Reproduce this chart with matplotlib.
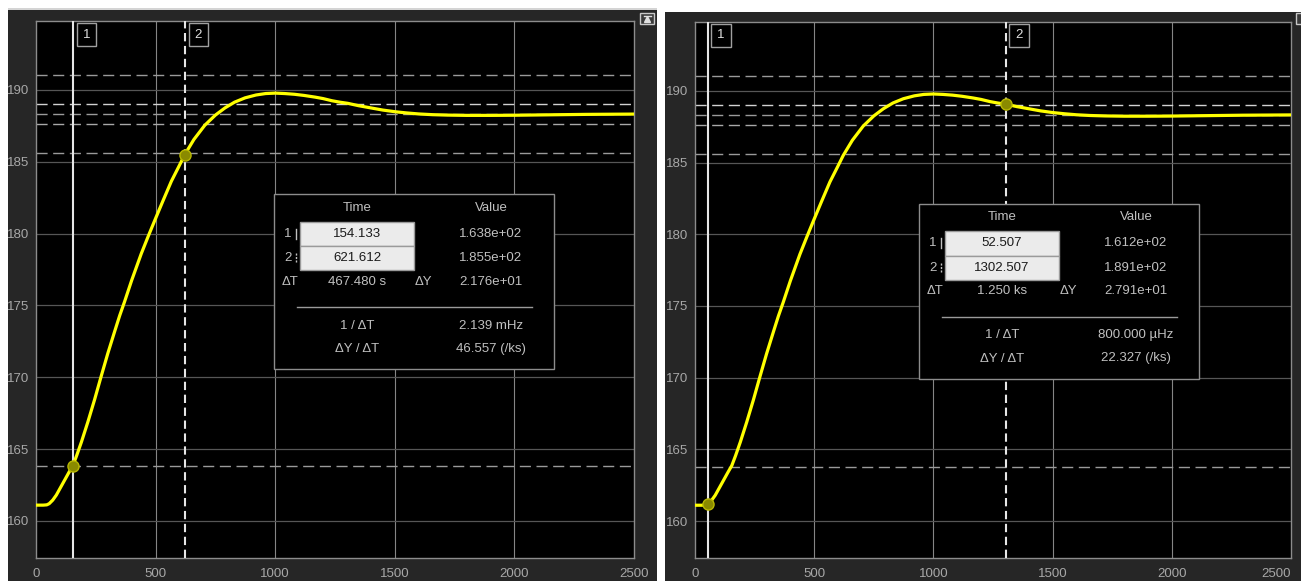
import matplotlib.pyplot as plt
from matplotlib.patches import Rectangle

plt.rcParams['font.family'] = ['Liberation Sans', 'DejaVu Sans']

# step response (time in s)
t_sec = [0, 30, 45, 55, 70, 85, 100, 120, 140, 154, 170, 190, 217, 245, 273,
         300, 329, 350, 370, 400, 440, 470, 496, 530, 566, 595, 622, 660, 706,
         750, 790, 830, 874, 920, 960, 1000, 1040, 1080, 1120, 1167, 1200, 1237,
         1270, 1303, 1350, 1400, 1450, 1503, 1550, 1600, 1657, 1720, 1800, 1900,
         2000, 2100, 2200, 2300, 2400, 2500]
response = [161.10, 161.10, 161.12, 161.20, 161.45, 161.80, 162.25, 162.85,
            163.45, 163.85, 164.55, 165.50, 166.90, 168.45, 170.10, 171.65,
            173.20, 174.30, 175.25, 176.75, 178.60, 179.85, 180.90, 182.25,
            183.65, 184.60, 185.50, 186.55, 187.55, 188.25, 188.75, 189.15,
            189.45, 189.65, 189.75, 189.78, 189.75, 189.70, 189.62, 189.50,
            189.40, 189.25, 189.15, 189.07, 188.90, 188.75, 188.60, 188.48,
            188.40, 188.33, 188.28, 188.25, 188.23, 188.23, 188.24, 188.26,
            188.28, 188.30, 188.31, 188.32]

# dashed reference levels (bounds / final value)
levels = [191.05, 189.03, 188.33, 187.65, 185.6, 163.8]
level_colors = ['#9a9a9a', '#d2d2d2', '#9a9a9a', '#a8a8a8', '#9a9a9a', '#9a9a9a']

x_ticks = [0, 500, 1000, 1500, 2000, 2500]
y_ticks = [160, 165, 170, 175, 180, 185, 190]

# cursor positions and their readings, one pair per scope window
cursors_left = [154.133, 621.612]
cursor_vals_left = [163.8, 185.5]
cursors_right = [52.507, 1302.507]
cursor_vals_right = [161.2, 189.1]

readout_left = ['154.133', '621.612', '1.638e+02', '1.855e+02',
                '467.480 s', '2.176e+01', '2.139 mHz', '46.557 (/ks)']
readout_right = ['52.507', '1302.507', '1.612e+02', '1.891e+02',
                 '1.250 ks', '2.791e+01', '800.000 µHz', '22.327 (/ks)']

W, H = 1301, 581
PANEL = '#262626'
TXT = '#c0c0c0'
FS = 9.5

fig = plt.figure(figsize=(W / 100, H / 100), dpi=100, facecolor='white')

# background layer in pixel coords (y down)
bg = fig.add_axes([0, 0, 1, 1], zorder=-1)
bg.set_xlim(0, W)
bg.set_ylim(H, 0)
bg.axis('off')
bg.add_patch(Rectangle((8, 8), 649, 2.5, fc='#d4d4d4', ec='none'))
bg.add_patch(Rectangle((8, 10), 649, 571, fc=PANEL, ec='none'))
bg.add_patch(Rectangle((665, 12), 636, 569, fc=PANEL, ec='none'))


def scope_axes(box, cursors, cursor_vals):
    x0, y0, x1, y1 = box
    ax = fig.add_axes([x0 / W, (H - y1) / H, (x1 - x0) / W, (y1 - y0) / H])
    ax.set_facecolor('black')
    ax.set_xlim(0, 2500)
    ax.set_ylim(157.42, 194.8)
    ax.set_xticks(x_ticks)
    ax.set_yticks(y_ticks)
    ax.tick_params(axis='x', colors='#a8a8a8', labelsize=FS, length=0, pad=7)
    ax.tick_params(axis='y', colors='#a8a8a8', labelsize=FS, length=0, pad=5)
    for s in ax.spines.values():
        s.set_color('#8c8c8c')
        s.set_linewidth(1)
    for x in x_ticks[1:-1]:
        ax.axvline(x, color='#858585', lw=0.8, zorder=1)
    for y in y_ticks:
        ax.axhline(y, color='#565656', lw=0.9, zorder=1)

    for lev, c in zip(levels, level_colors):
        ax.axhline(lev, color=c, lw=1.0, dashes=(8, 4), zorder=2)

    ax.axvline(cursors[0], color='#e6e6e6', lw=1.5, zorder=3)
    ax.axvline(cursors[1], color='#e6e6e6', lw=1.5, dashes=(4, 2.2), zorder=3)

    ax.plot(t_sec, response, color='#ffff00', lw=2.3, zorder=4,
            solid_joinstyle='round', solid_capstyle='butt')
    ax.plot(cursors, cursor_vals, 'o', ms=8, mfc='#8a8a00', mec='#b8b800',
            mew=1, zorder=5)

    xt = ax.get_xaxis_transform()
    for i, c in enumerate(cursors):
        ax.annotate(str(i + 1), xy=(c, 1), xycoords=xt, xytext=(13.5, -13.5),
                    textcoords='offset pixels', ha='center', va='center',
                    color='#e0e0e0', fontsize=FS, zorder=6,
                    bbox=dict(boxstyle='square,pad=0.45', fc='black',
                              ec='#a0a0a0', lw=1))
    return ax


ax_l = scope_axes((36, 21, 634, 558), cursors_left, cursor_vals_left)
ax_r = scope_axes((695, 22, 1291, 558), cursors_right, cursor_vals_right)
# the last label of the right window stays inside the window
ax_r.get_xticklabels()[-1].set_ha('right')

# overlay for the measurement panels and window icons
ov = fig.add_axes([0, 0, 1, 1], zorder=10)
ov.set_xlim(0, W)
ov.set_ylim(H, 0)
ov.axis('off')
ov.patch.set_alpha(0)


def draw_readout(x0, y0, r):
    ov.add_patch(Rectangle((x0, y0), 280, 175, fc='black', ec='#8c8c8c', lw=1))
    c1, c2 = x0 + 83, x0 + 217
    kw = dict(ha='center', va='center', fontsize=FS, color=TXT)
    ov.text(c1, y0 + 14, 'Time', **kw)
    ov.text(c2, y0 + 14, 'Value', **kw)
    for i in range(2):
        yy = y0 + 39.8 + 24.3 * i
        ov.add_patch(Rectangle((x0 + 26, yy - 12.1), 114, 24.3, fc='#ebebeb',
                               ec='#9a9a9a', lw=1))
        ov.text(c1, yy, r[i], ha='center', va='center', fontsize=FS,
                color='#1a1a1a')
        ov.text(c2, yy, r[2 + i], **kw)
        ov.text(x0 + 14, yy, str(i + 1), **kw)
        ov.plot([x0 + 22, x0 + 22], [yy - 5, yy + 5], color=TXT, lw=1,
                ls='-' if i == 0 else (0, (1.5, 1)))
    yy = y0 + 87.7
    ov.text(x0 + 16, yy, 'ΔT', **kw)
    ov.text(c1, yy, r[4], **kw)
    ov.text(x0 + 149, yy, 'ΔY', **kw)
    ov.text(c2, yy, r[5], **kw)
    ov.plot([x0 + 23, x0 + 258], [y0 + 113.3, y0 + 113.3], color='#9a9a9a', lw=1)
    ov.text(c1, y0 + 131.7, '1 / ΔT', **kw)
    ov.text(c2, y0 + 131.7, r[6], **kw)
    ov.text(c1, y0 + 155, 'ΔY / ΔT', **kw)
    ov.text(c2, y0 + 155, r[7], **kw)


draw_readout(274, 194, readout_left)
draw_readout(919, 203.5, readout_right)

# undock icons in the window corners
ov.add_patch(Rectangle((640, 12.5), 14, 11, fc='#3a3a3a', ec='#c8c8c8', lw=1))
ov.plot([647], [19], marker='^', ms=4, color='#e0e0e0')
ov.plot([643.5, 650.5], [15.5, 15.5], color='#e0e0e0', lw=1)
ov.add_patch(Rectangle((1296, 13), 10, 11, fc='#3a3a3a', ec='#c8c8c8', lw=1))

fig.savefig('out.png', dpi=100, facecolor='white')
